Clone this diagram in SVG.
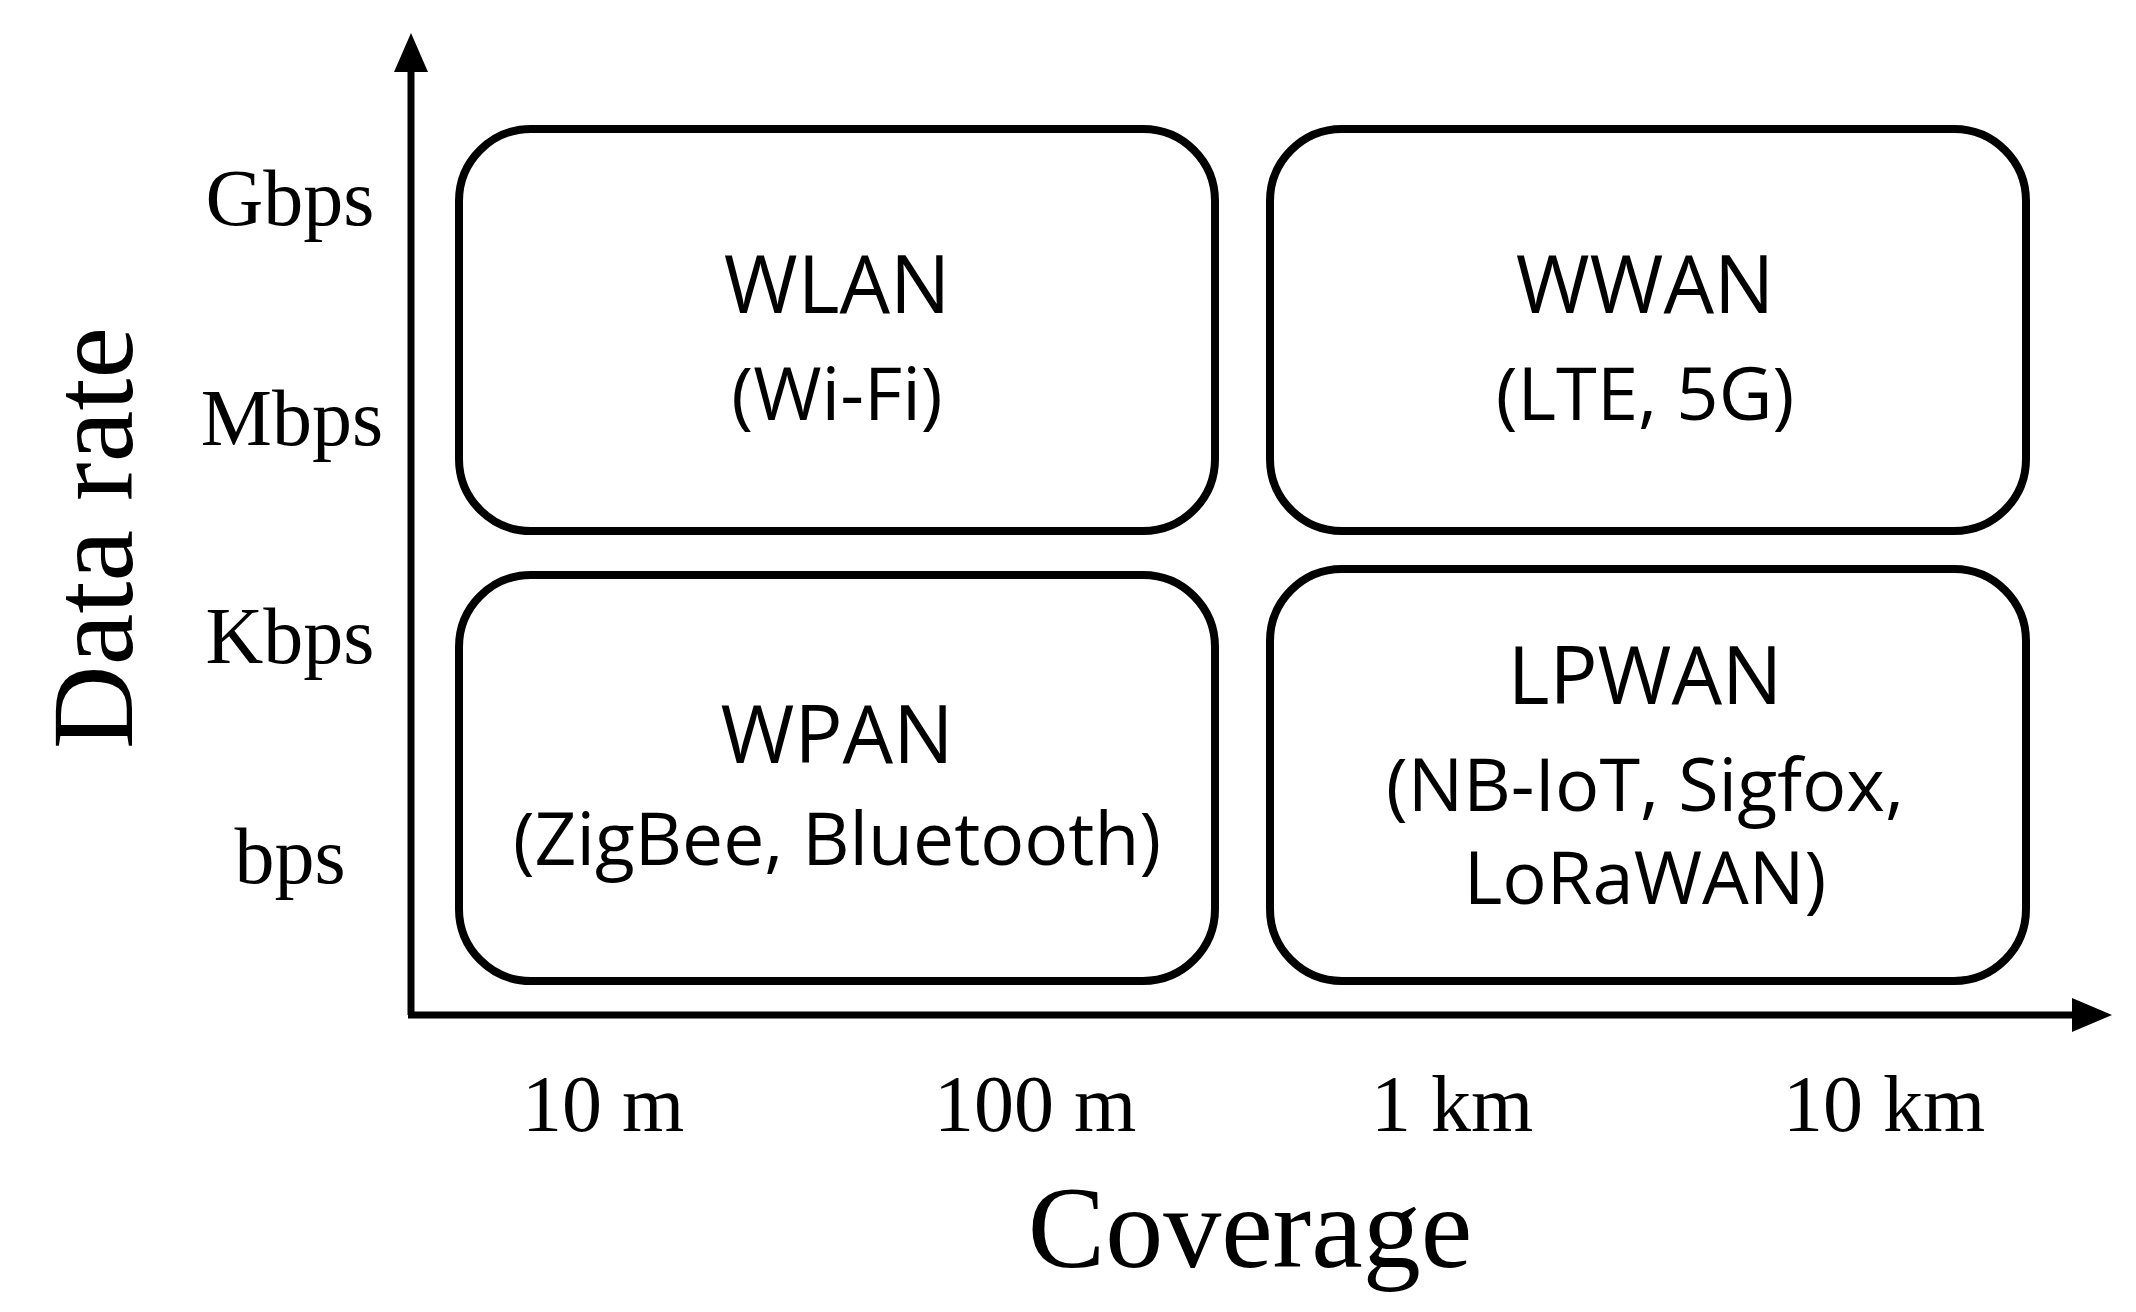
<svg xmlns="http://www.w3.org/2000/svg" width="2136" height="1312" viewBox="0 0 2136 1312">
<style>
.box{fill:none;stroke:#000;stroke-width:8}
.t{font-family:"Open Sans","Liberation Sans",sans-serif;font-size:80px;text-anchor:middle}
.s{font-family:"Open Sans","Liberation Sans",sans-serif;font-size:74px;text-anchor:middle}
.a{font-family:"Liberation Serif",serif;font-size:80px;text-anchor:middle}
.big{font-family:"Liberation Serif",serif;font-size:116px;text-anchor:middle}
.ax{stroke:#000;stroke-width:7;fill:none}
</style>
<rect width="2136" height="1312" fill="#fff"/>
<g id="connectors">
<path class="ax" d="M411,1015V70"/><path d="M394,72L411,33L428,72z"/>
<path class="ax" d="M408,1015H2075"/><path d="M2072,998L2112,1015L2072,1032z"/>
</g>
<g id="wlan"><rect class="box" x="459" y="129" width="756" height="402" rx="72"/><text class="t" x="837" y="313">WLAN</text><text class="s" x="837" y="420">(Wi-Fi)</text></g>
<g id="wwan"><rect class="box" x="1270" y="129" width="756" height="402" rx="72"/><text class="t" x="1645" y="313">WWAN</text><text class="s" x="1645" y="420">(LTE, 5G)</text></g>
<g id="wpan"><rect class="box" x="459" y="575" width="756" height="406" rx="72"/><text class="t" x="837" y="763">WPAN</text><text class="s" x="837" y="865" textLength="648" lengthAdjust="spacingAndGlyphs">(ZigBee, Bluetooth)</text></g>
<g id="lpwan"><rect class="box" x="1270" y="569" width="756" height="412" rx="72"/><text class="t" x="1645" y="704">LPWAN</text><text class="s" x="1645" y="811" textLength="518" lengthAdjust="spacingAndGlyphs">(NB-IoT, Sigfox,</text><text class="s" x="1645" y="904">LoRaWAN)</text></g>
<g id="labels">
<text class="a" x="290" y="225">Gbps</text><text class="a" x="292" y="445">Mbps</text><text class="a" x="290" y="663">Kbps</text><text class="a" x="290" y="883">bps</text>
<text class="a" x="603" y="1131">10 m</text><text class="a" x="1035" y="1131">100 m</text><text class="a" x="1452" y="1131">1 km</text><text class="a" x="1884" y="1131">10 km</text>
<text class="big" x="1250" y="1267">Coverage</text>
<text class="big" transform="translate(132,538) rotate(-90)" x="0" y="0">Data rate</text>
</g>
</svg>
